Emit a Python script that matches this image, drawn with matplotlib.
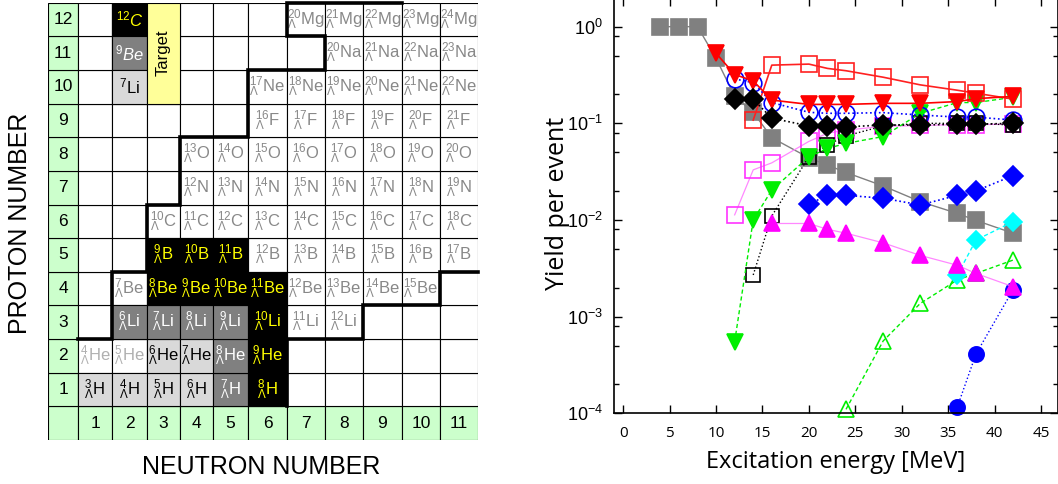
import matplotlib
matplotlib.use("Agg")
import matplotlib.pyplot as plt
import numpy as np
from matplotlib.patches import Rectangle
from matplotlib.ticker import LogLocator, MultipleLocator, NullFormatter

plt.rcParams["font.family"] = ["Liberation Sans", "DejaVu Sans"]
plt.rcParams["mathtext.fontset"] = "custom"
plt.rcParams["mathtext.rm"] = "Liberation Sans"
plt.rcParams["mathtext.it"] = "Liberation Sans:italic"
plt.rcParams["mathtext.bf"] = "Liberation Sans:bold"

# --- hypernuclear chart (left) ---
elements = ["H", "He", "Li", "Be", "B", "C", "N", "O", "F", "Ne", "Na", "Mg"]
n_first = [1, 1, 2, 2, 3, 3, 4, 4, 6, 6, 8, 7]
n_last = [6, 6, 8, 10, 11, 11, 11, 11, 11, 11, 11, 11]
# (Z, N) of shaded cells
black_cells = [(5, 3), (5, 4), (5, 5), (4, 3), (4, 4), (4, 5), (4, 6), (3, 6), (2, 6), (1, 6)]
dark_cells = [(3, 2), (3, 3), (3, 4), (3, 5), (2, 5), (1, 5)]
light_cells = [(2, 3), (2, 4), (1, 1), (1, 2), (1, 3), (1, 4)]
pale_cells = [(2, 1), (2, 2)]
target_labels = [r"$^{12}\mathit{C}$", r"$^{9}\mathit{Be}$", r"$^{7}$Li"]
target_rows = [12, 11, 10]
target_styles = ["black", "dark", "light"]

# --- yields (right) ---
e_gray_sq = [4, 6, 8, 10, 12, 14, 16, 20, 22, 24, 28, 32, 36, 38, 42]
y_gray_sq = [1.0, 1.0, 1.0, 0.47, 0.19, 0.13, 0.071, 0.044, 0.037, 0.031, 0.0225, 0.0155, 0.0117, 0.0099, 0.0073]
e_red_tri = [10, 12, 14, 16, 20, 22, 24, 28, 32, 36, 38, 42]
y_red_tri = [0.53, 0.32, 0.275, 0.174, 0.157, 0.157, 0.157, 0.161, 0.161, 0.168, 0.18, 0.19]
e_red_sq = [14, 16, 20, 22, 24, 28, 32, 36, 38, 42]
y_red_sq = [0.108, 0.40, 0.41, 0.37, 0.35, 0.30, 0.25, 0.22, 0.205, 0.178]
e_blue_oc = [12, 14, 16, 20, 22, 24, 28, 32, 36, 38, 42]
y_blue_oc = [0.288, 0.264, 0.164, 0.13, 0.127, 0.127, 0.129, 0.122, 0.116, 0.116, 0.108]
e_black_d = [12, 14, 16, 20, 22, 24, 28, 32, 36, 38, 42]
y_black_d = [0.18, 0.177, 0.113, 0.094, 0.094, 0.092, 0.096, 0.096, 0.098, 0.098, 0.10]
e_mag_sq = [12, 14, 16, 20, 22, 24, 28, 32, 36, 38, 42]
y_mag_sq = [0.0113, 0.033, 0.039, 0.065, 0.079, 0.085, 0.093, 0.095, 0.097, 0.097, 0.098]
e_black_sq = [14, 16, 20, 22, 24, 28, 32, 36, 38, 42]
y_black_sq = [0.0027, 0.011, 0.045, 0.06, 0.074, 0.094, 0.10, 0.10, 0.10, 0.096]
e_green_tri = [12, 14, 16, 20, 22, 24, 28, 32, 36, 38, 42]
y_green_tri = [5.5e-4, 0.010, 0.0204, 0.045, 0.055, 0.062, 0.073, 0.127, 0.164, 0.164, 0.186]
e_blue_d = [20, 22, 24, 28, 32, 36, 38, 42]
y_blue_d = [0.0146, 0.018, 0.018, 0.0168, 0.0143, 0.018, 0.020, 0.0288]
e_mag_tri = [16, 20, 22, 24, 28, 32, 36, 38, 42]
y_mag_tri = [0.0092, 0.0092, 0.008, 0.0073, 0.0058, 0.0043, 0.0034, 0.0028, 0.00204]
e_cyan_d = [36, 38, 42]
y_cyan_d = [0.0027, 0.0062, 0.0096]
e_green_otri = [24, 28, 32, 36, 38, 42]
y_green_otri = [1.1e-4, 5.6e-4, 0.00137, 0.0024, 0.0028, 0.00385]
e_blue_c = [36, 38, 42]
y_blue_c = [1.17e-4, 4.1e-4, 0.0019]

W, H = 1058, 484
fig = plt.figure(figsize=(W / 100, H / 100), dpi=100)

# ---------------- left: chart of hypernuclei ----------------
ax0 = fig.add_axes([48 / W, 44 / H, 430 / W, 437.3 / H])
col_edges = np.array([0, 30, 64, 99, 132, 165, 200, 239, 277, 315, 354, 392, 430])
ax0.set_xlim(0, 430)
ax0.set_ylim(0, 13)
ax0.axis("off")

green = "#ccffcc"
styles = {
    "black": ("black", "#ffff00"),
    "dark": ("#808080", "white"),
    "light": ("#d9d9d9", "black"),
    "pale": ("white", "#b0b0b0"),
    "plain": ("white", "#888888"),
}


def cell_box(col, row, fc, z=1):
    w = col_edges[col + 1] - col_edges[col]
    ax0.add_patch(Rectangle((col_edges[col], row), w, 1, facecolor=fc,
                            edgecolor="black", lw=0.8, zorder=z))


def cell_center(col, row):
    return 0.5 * (col_edges[col] + col_edges[col + 1]), row + 0.5


for col in range(12):
    for row in range(13):
        cell_box(col, row, green if (col == 0 or row == 0) else "white")

for z in range(1, 13):
    x, y = cell_center(0, z)
    ax0.text(x, y, str(z), ha="center", va="center", fontsize=12.5, zorder=6)
for n in range(1, 12):
    x, y = cell_center(n, 0)
    ax0.text(x, y, str(n), ha="center", va="center", fontsize=12.5, zorder=6)

for i, sym in enumerate(elements):
    z = i + 1
    for n in range(n_first[i], n_last[i] + 1):
        key = "plain"
        if (z, n) in black_cells:
            key = "black"
        elif (z, n) in dark_cells:
            key = "dark"
        elif (z, n) in light_cells:
            key = "light"
        elif (z, n) in pale_cells:
            key = "pale"
        fc, tc = styles[key]
        if fc != "white":
            cell_box(n, z, fc, z=2)
        x, y = cell_center(n, z)
        ax0.text(x, y, r"${}^{%d}_{\Lambda}$" % (z + n + 1) + sym, ha="center",
                 va="center", fontsize=12, color=tc, zorder=6)

for lbl, row, key in zip(target_labels, target_rows, target_styles):
    fc, tc = styles[key]
    cell_box(2, row, fc, z=2)
    x, y = cell_center(2, row)
    ax0.text(x, y, lbl, ha="center", va="center", fontsize=12, color=tc, zorder=6)

ax0.add_patch(Rectangle((col_edges[3], 10), col_edges[4] - col_edges[3], 3,
                        facecolor="#ffff99", edgecolor="black", lw=0.8, zorder=3))
x, _ = cell_center(3, 10)
ax0.text(x, 11.5, "Target", rotation=90, ha="center", va="center", fontsize=12, zorder=6)

# drip-line borders: (column boundary, row boundary)
p_drip = [(10, 13), (7, 13), (7, 12), (8, 12), (8, 11), (6, 11), (6, 9), (4, 9),
          (4, 7), (3, 7), (3, 5), (2, 5), (2, 3), (1, 3)]
n_drip = [(12, 5), (11, 5), (11, 4), (9, 4), (9, 3), (7, 3), (7, 1)]
for path in (p_drip, n_drip):
    xs = [col_edges[c] for c, _ in path]
    ys = [r for _, r in path]
    ax0.plot(xs, ys, color="black", lw=2.6, solid_joinstyle="miter",
             solid_capstyle="projecting", clip_on=False, zorder=7)

fig.text(20 / W, 1 - 223 / H, "PROTON NUMBER", rotation=90, ha="center",
         va="center", fontsize=18)
fig.text(261 / W, 1 - 467 / H, "NEUTRON NUMBER", ha="center", va="center", fontsize=18)

# ---------------- right: yield vs excitation energy ----------------
ax1 = fig.add_axes([614 / W, 70.7 / H, 444 / W, 415.3 / H])
ax1.set_yscale("log")
ax1.set_xlim(-1, 46.84)
ax1.set_ylim(1e-4, 1.98)


def series(e, y, marker, color, ls, lw=1.0, filled=True, ms=11, lc=None):
    ax1.plot(e, y, linestyle=ls, lw=lw, color=lc or color, marker=marker, ms=ms,
             markerfacecolor=color if filled else "none", markeredgecolor=color,
             markeredgewidth=1.2, clip_on=False)


dash = (0, (3, 2))
series(e_gray_sq, y_gray_sq, "s", "#808080", "-", lw=1.0)
series(e_mag_sq, y_mag_sq, "s", "#ff33ff", "-", lw=0.9, filled=False, lc="#ff88ff")
series(e_black_sq, y_black_sq, "s", "black", ":", lw=1.0, filled=False, ms=10)
series(e_green_tri, y_green_tri, "v", "#00ee00", dash, lw=1.0)
series(e_green_otri, y_green_otri, "^", "#00ee00", dash, lw=1.0, filled=False)
series(e_cyan_d, y_cyan_d, "D", "#00ffff", dash, lw=1.0, ms=9)
series(e_blue_d, y_blue_d, "D", "#0000ff", ":", lw=1.2, ms=10)
series(e_blue_c, y_blue_c, "o", "#0000ff", ":", lw=1.0, ms=11)
series(e_mag_tri, y_mag_tri, "^", "#ff00ff", "-", lw=0.9, ms=11.5, lc="#ff88ff")
series(e_red_sq, y_red_sq, "s", "#ff2020", "-", lw=1.2, filled=False)
series(e_blue_oc, y_blue_oc, "o", "#0000ff", ":", lw=1.2, filled=False, ms=12)
series(e_red_tri, y_red_tri, "v", "#ff0000", "-", lw=1.2, ms=11.5)
series(e_black_d, y_black_d, "D", "black", ":", lw=1.2, ms=10)

ax1.xaxis.set_major_locator(MultipleLocator(5))
ax1.yaxis.set_major_locator(LogLocator(base=10, numticks=10))
ax1.yaxis.set_minor_locator(LogLocator(base=10, subs=(2, 5, 8), numticks=10))
ax1.yaxis.set_minor_formatter(NullFormatter())
ax1.tick_params(which="both", direction="in", top=True, right=True, width=1)
ax1.tick_params(which="major", length=6)
ax1.tick_params(which="minor", length=3.5)
ax1.tick_params(axis="x", labelsize=11, pad=9, labelfontfamily="Open Sans")
ax1.tick_params(axis="y", labelsize=13, pad=8)
for sp in ax1.spines.values():
    sp.set_linewidth(1.2)

fig.text(557 / W, 1 - 203 / H, "Yield per event", rotation=90, ha="center",
         va="center", fontsize=18, family="Open Sans")
fig.text(836 / W, 1 - 462 / H, "Excitation energy [MeV]", ha="center",
         va="center", fontsize=17, family="Open Sans")

fig.savefig("out.png", dpi=100)
